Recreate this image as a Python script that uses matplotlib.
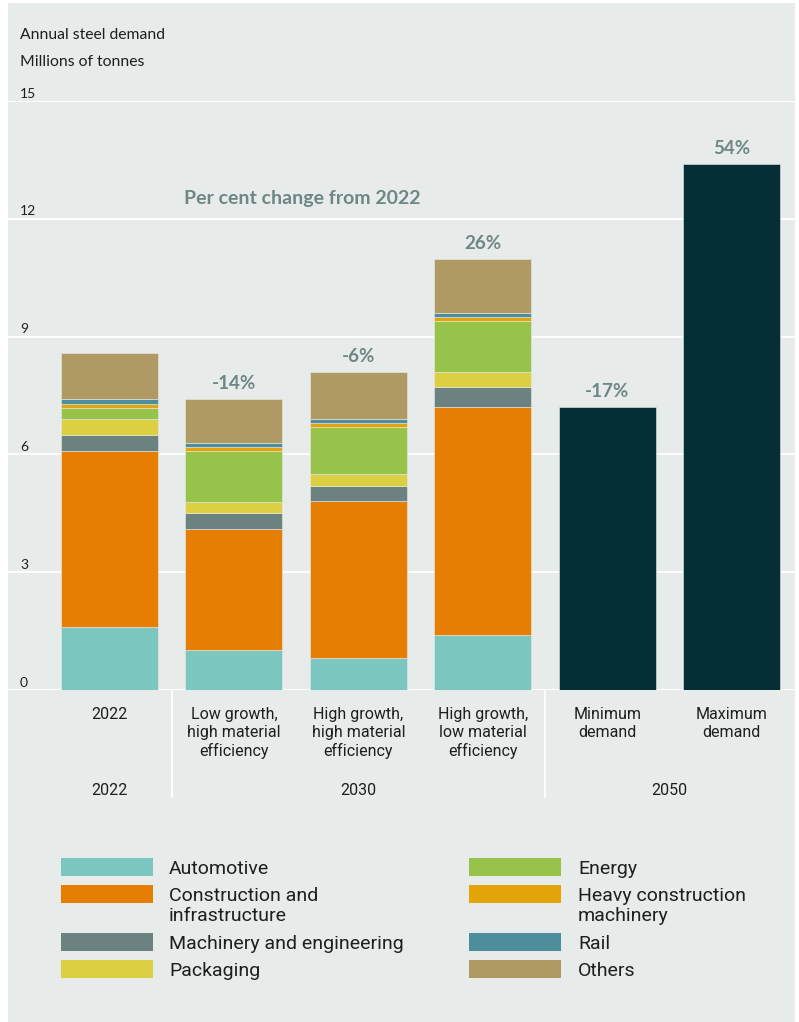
import matplotlib.pyplot as plt
import matplotlib.transforms as mtransforms
from matplotlib.patches import Rectangle
import numpy as np

# scenario bars (millions of tonnes)
scenarios = ["2022", "Low growth,\nhigh material\nefficiency", "High growth,\nhigh material\nefficiency",
             "High growth,\nlow material\nefficiency", "Minimum\ndemand", "Maximum\ndemand"]
groups = ["2022", "2030", "2050"]

sectors = ["Automotive", "Construction and\ninfrastructure", "Machinery and engineering", "Packaging",
           "Energy", "Heavy construction\nmachinery", "Rail", "Others"]
sector_colors = ["#7cc6c0", "#e67e03", "#6b8280", "#ddcf42", "#97c34b", "#e2a407", "#4d8d9c", "#b09a63"]

# sector breakdown for the first four bars
automotive   = [1.60, 1.01, 0.81, 1.40]
construction = [4.48, 3.09, 4.00, 5.80]
machinery    = [0.42, 0.40, 0.39, 0.51]
packaging    = [0.40, 0.30, 0.30, 0.38]
energy       = [0.29, 1.29, 1.19, 1.30]
heavy        = [0.10, 0.10, 0.10, 0.10]
rail         = [0.11, 0.10, 0.11, 0.10]
others       = [1.19, 1.11, 1.19, 1.39]

# 2050 totals
demand_2050 = [7.20, 13.40]

pct_labels = ["-14%", "-6%", "26%", "-17%", "54%"]

bg = "#e7ebea"
txt = "#1e1e1e"
accent = "#6e8785"
dark = "#042f36"
narrow = ["Roboto", "DejaVu Sans"]

W, H = 799, 1022
fig = plt.figure(figsize=(W / 100, H / 100), dpi=100, facecolor="white")
fig.add_artist(Rectangle((8 / W, 0), 787 / W, 1 - 3 / H, transform=fig.transFigure,
                         facecolor=bg, edgecolor="none", zorder=-10))

ax = fig.add_axes([8 / W, 1 - 690 / H, 787 / W, 589 / H])
ax.set_facecolor("none")
for s in ax.spines.values():
    s.set_visible(False)

x = np.arange(len(scenarios))
width = 0.78
ax.set_xlim(-0.816, 5.51)
ax.set_ylim(0, 15)

stack = [automotive, construction, machinery, packaging, energy, heavy, rail, others]
bottom = np.zeros(4)
for vals, col in zip(stack, sector_colors):
    ax.bar(x[:4], vals, width, bottom=bottom, color=col, edgecolor=bg, linewidth=0.4, zorder=3)
    bottom += np.array(vals)
ax.bar(x[4:], demand_2050, width, color=dark, edgecolor=bg, linewidth=0.4, zorder=3)

totals = list(bottom[1:]) + demand_2050
for xi, tot, lab in zip(x[1:], totals, pct_labels):
    ax.annotate(lab, (xi, tot), xytext=(0, 5), textcoords="offset points", ha="center", va="bottom",
                fontsize=13.5, fontweight="bold", color=accent, family="Lato")

ax.text((302 - 8) / 787, 0.835, "Per cent change from 2022", transform=ax.transAxes,
        ha="center", va="center", fontsize=14, fontweight="bold", color=accent, family="Lato")

# grid and y labels
yt = [0, 3, 6, 9, 12, 15]
for v in yt:
    ax.axhline(v, color="white", lw=1.3, zorder=1)
ylab_tr = mtransforms.offset_copy(ax.get_yaxis_transform(), fig=fig, x=0, y=1, units="points")
for v in yt:
    ax.text(12 / 787, v, str(v), transform=ylab_tr, ha="left", va="bottom", fontsize=10,
            color=txt, family="Lato")
ax.set_yticks([])

ax.set_xticks(x, scenarios, fontsize=11.5, color=txt, family=narrow, linespacing=1.25)
ax.tick_params(axis="x", length=0, pad=12)

# scenario groups
grp_tr = ax.get_xaxis_transform()
for gx, g in zip([0, 2, 4.5], groups):
    ax.text(gx, -0.170, g, transform=grp_tr, ha="center", va="center", fontsize=11.5, color=txt,
            family=narrow)
for sx in [0.5, 3.5]:
    ax.plot([sx, sx], [0, -0.182], transform=grp_tr, color="white", lw=1.3, clip_on=False)

fig.text(20 / W, 1 - 35 / H, "Annual steel demand", ha="left", va="center", fontsize=11.3, color=txt,
         family="Lato")
fig.text(20 / W, 1 - 62 / H, "Millions of tonnes", ha="left", va="center", fontsize=11.3, color=txt,
         family="Lato")

# legend, two columns
rows = [867, 894, 942, 969]
for i, (lab, col) in enumerate(zip(sectors, sector_colors)):
    c, r = divmod(i, 4)
    px = 61 if c == 0 else 469
    tx = 169 if c == 0 else 578
    cy = rows[r]
    fig.add_artist(Rectangle((px / W, 1 - (cy + 9) / H), 92 / W, 18 / H, transform=fig.transFigure,
                             facecolor=col, edgecolor="none"))
    fig.text(tx / W, 1 - (cy - 7) / H, lab, ha="left", va="top", fontsize=14, color=txt,
             family=narrow, linespacing=1.15)

fig.savefig("out.png", dpi=100, facecolor="white")
